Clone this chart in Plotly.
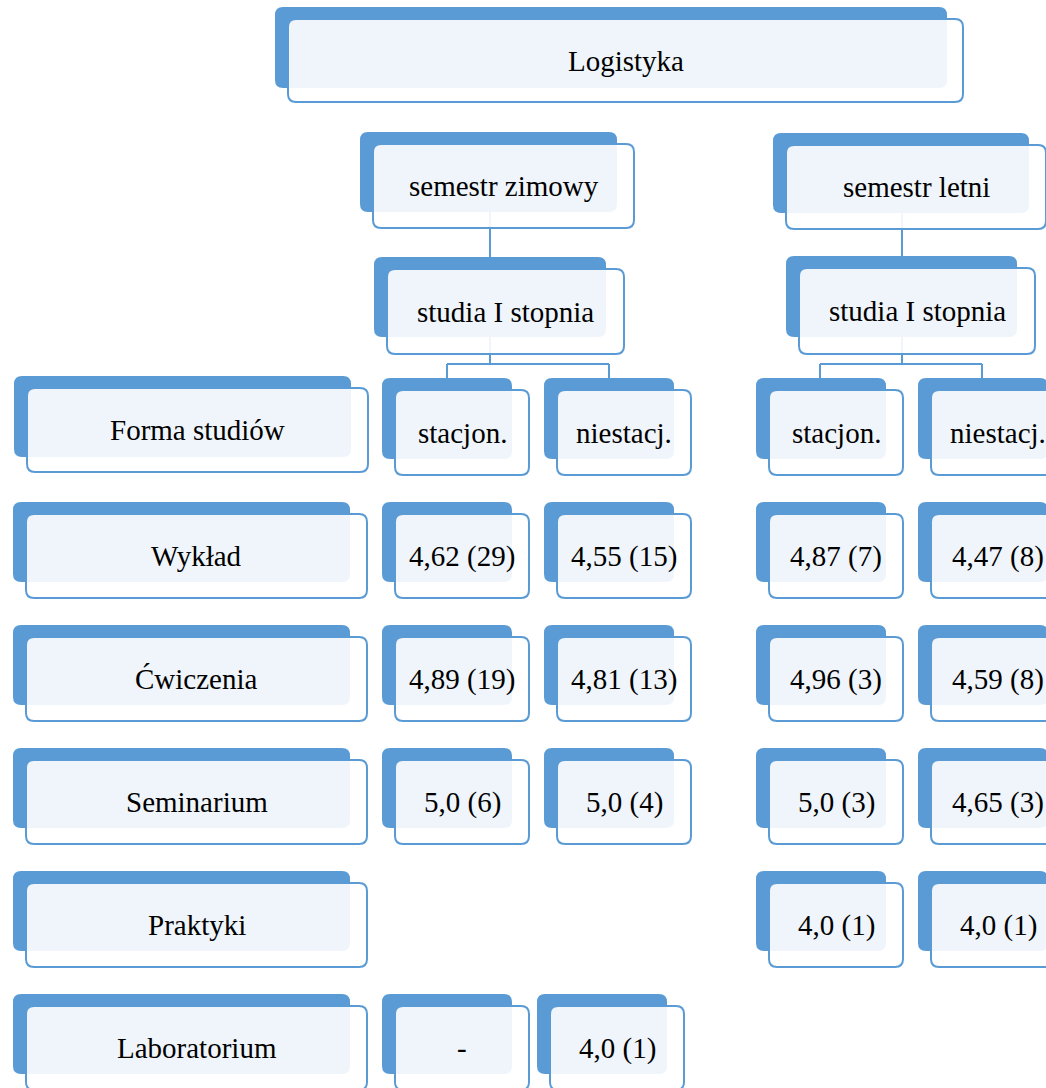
import plotly.graph_objects as go

# ---------------- data ----------------
title = "Logistyka"
semesters = ["semestr zimowy", "semestr letni"]
level = "studia I stopnia"
forms = ["stacjon.", "niestacj."]
header_label = "Forma studiów"
row_labels = ["Wykład", "Ćwiczenia", "Seminarium", "Praktyki", "Laboratorium"]
zimowy_stacjon = ["4,62 (29)", "4,89 (19)", "5,0 (6)", None, "-"]
zimowy_niestacj = ["4,55 (15)", "4,81 (13)", "5,0 (4)", None, "4,0 (1)"]
letni_stacjon = ["4,87 (7)", "4,96 (3)", "5,0 (3)", "4,0 (1)", None]
letni_niestacj = ["4,47 (8)", "4,59 (8)", "4,65 (3)", "4,0 (1)", None]
columns = [zimowy_stacjon, zimowy_niestacj, letni_stacjon, letni_niestacj]

# ---------------- style / layout ----------------
W, H = 1046, 1088
BLUE = "#5B9BD5"
FRONT_FILL = "rgba(255,255,255,0.9)"
FONT = dict(family="Liberation Serif, Times New Roman, serif", size=29, color="#000000")
DX, DY = 13, 12  # front box offset

shapes = []
annotations = []


def rr_path(x0, y0, x1, y1, r=8):
    return (f"M {x0+r},{y0} L {x1-r},{y0} Q {x1},{y0} {x1},{y0+r} "
            f"L {x1},{y1-r} Q {x1},{y1} {x1-r},{y1} L {x0+r},{y1} "
            f"Q {x0},{y1} {x0},{y1-r} L {x0},{y0+r} Q {x0},{y0} {x0+r},{y0} Z")


def line(x0, y0, x1, y1):
    shapes.append(dict(type="line", xref="x", yref="y", x0=x0, y0=y0, x1=x1, y1=y1,
                       line=dict(color=BLUE, width=2)))


def node(bx, by, bw, bh, text, fw=None, fh=None, dx=DX, dy=DY):
    fw = fw if fw is not None else bw + 4
    fh = fh if fh is not None else bh + 4
    shapes.append(dict(type="path", xref="x", yref="y", path=rr_path(bx, by, bx + bw, by + bh),
                       fillcolor=BLUE, line=dict(width=0)))
    fx, fy = bx + dx, by + dy
    shapes.append(dict(type="path", xref="x", yref="y", path=rr_path(fx, fy, fx + fw, fy + fh),
                       fillcolor=FRONT_FILL, line=dict(color=BLUE, width=2)))
    annotations.append(dict(x=fx + fw / 2, y=fy + fh / 2, xref="x", yref="y", text=text,
                            showarrow=False, font=FONT, xanchor="center", yanchor="middle"))


# connectors (drawn first, behind boxes)
sem_x = [490, 902]
col_centers = [447, 609, 820, 982]
for i, sx in enumerate(sem_x):
    line(sx, 212, sx, 258)
    line(sx, 337, sx, 364)
    cl, cr = col_centers[2 * i], col_centers[2 * i + 1]
    line(cl, 364, cr, 364)
    line(cl, 364, cl, 379)
    line(cr, 364, cr, 379)

# top node
node(275, 7, 672, 81, title, fw=675, fh=83)

# semesters and levels
sem_boxes = [(360, 132, 257, 80), (773, 133, 256, 80)]
lvl_boxes = [(374, 257, 232, 80), (786, 256, 231, 81)]
for i in range(2):
    bx, by, bw, bh = sem_boxes[i]
    node(bx, by, bw, bh, semesters[i], fw=bw + 4, fh=bh + 4)
    bx, by, bw, bh = lvl_boxes[i]
    node(bx, by, bw, bh, level, fw=bw + 5, fh=bh + 5)

# header row
col_x = [382, 544, 756, 918]
node(14, 376, 337, 81, header_label, fw=341, fh=84)
for j, cx in enumerate(col_x):
    node(cx, 378, 130, 81, forms[j % 2], fw=134, fh=85)

# data rows
row_tops = [502, 625, 748, 871, 994]
for r, lab in enumerate(row_labels):
    top = row_tops[r]
    node(13, top, 337, 80, lab, fw=341, fh=84)
    for j, cx in enumerate(col_x):
        val = columns[j][r]
        if val is None:
            continue
        x = cx
        if lab == "Laboratorium" and j == 1:
            x = cx - 7
        node(x, top, 130, 80, val, fw=134, fh=84)

fig = go.Figure()
fig.add_trace(go.Scatter(x=[0, W], y=[0, H], mode="markers",
                         marker=dict(opacity=0), hoverinfo="skip", showlegend=False))
fig.update_layout(
    width=W, height=H, margin=dict(l=0, r=0, t=0, b=0),
    paper_bgcolor="white", plot_bgcolor="white",
    xaxis=dict(range=[0, W], visible=False, fixedrange=True),
    yaxis=dict(range=[H, 0], visible=False, fixedrange=True),
    shapes=shapes, annotations=annotations, showlegend=False,
)
fig.write_html("out.html", config={"displayModeBar": False},
               post_script="document.body.style.margin='0';document.body.style.overflow='hidden';")
